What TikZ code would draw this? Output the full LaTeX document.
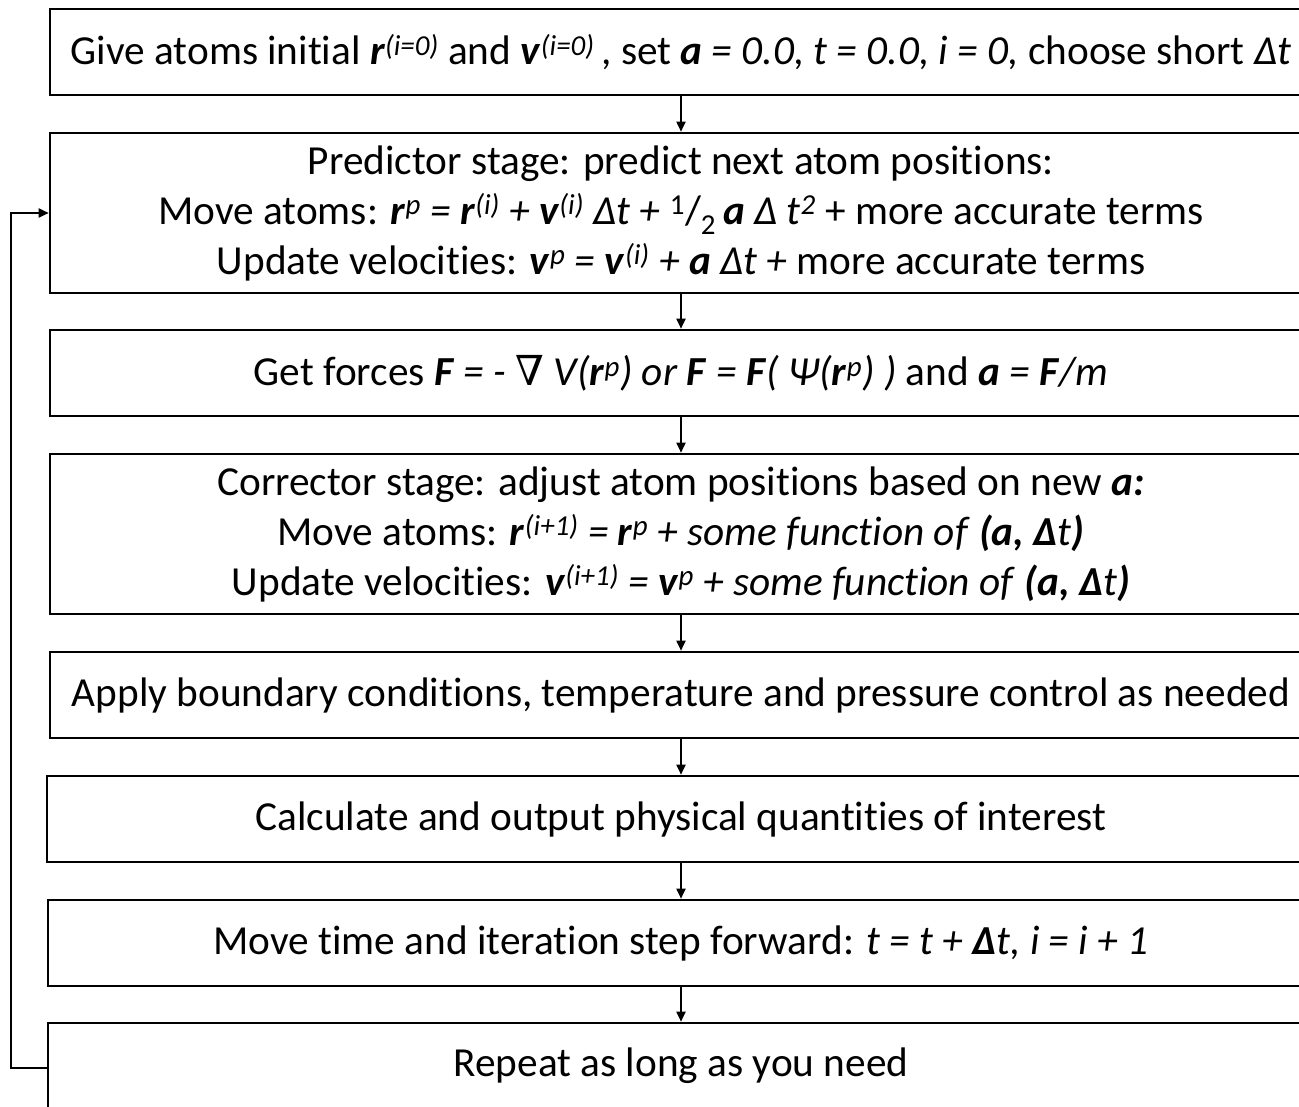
\documentclass[tikz,border=0pt]{standalone}
\usepackage{fontspec}
\setmainfont{Carlito}[Ligatures=NoCommon]
\newfontfamily\nablafont{DejaVu Serif}
\usetikzlibrary{arrows.meta}
\newcommand\bv[1]{\textbf{\textit{#1}}}
\newcommand\isup[1]{\textsuperscript{\textit{#1}}}
\begin{document}
\begin{tikzpicture}[x=1pt,y=-1pt,
  flowbox/.style={draw=black,line width=2.6pt,fill=white,align=center,inner sep=0pt,
    font=\fontsize{41.3}{50}\selectfont,minimum width=1262pt},
  shortbox/.style={flowbox,minimum height=86pt},
  tallbox/.style={flowbox,minimum height=160pt},
  flowarrow/.style={line width=1.8pt,-{Triangle[length=10pt,width=9pt]}}]
\useasboundingbox (0,0) rectangle (1299,1107);
\clip (0,0) rectangle (1299,1107);
\node[shortbox] (b1) at (681,52) {Give atoms initial \bv{r}\isup{(i=0)} and \bv{v}\isup{(i=0)}\,, set \bv{a} \textit{= 0.0, t = 0.0, i = 0,} choose short \textit{Δt}};
\node[tallbox] (b2) at (681,213) {Predictor stage: predict next atom positions:\\
Move atoms: \bv{r}\isup{p} \textit{=} \bv{r}\isup{(i)} \textit{+} \bv{v}\isup{(i)} \textit{Δt +} \textsuperscript{1}/\textsubscript{2}\,\bv{a} \textit{Δ t}\isup{2} + more accurate terms\\
Update velocities: \bv{v}\isup{p} \textit{=} \bv{v}\isup{(i)} \textit{+} \bv{a} \textit{Δt +} more accurate terms};
\node[shortbox] (b3) at (681,373) {Get forces \bv{F} \textit{= -} {\nablafont ∇} \textit{V(}\bv{r}\isup{p}\textit{) or} \bv{F} \textit{=} \bv{F}\textit{( Ψ(}\bv{r}\isup{p}\textit{) )} and \bv{a} \textit{=} \bv{F}\textit{/m}};
\node[tallbox] (b4) at (681,534) {Corrector stage: adjust atom positions based on new \bv{a:}\\
Move atoms: \bv{r}\isup{(i+1)} \textit{=} \bv{r}\isup{p} \textit{+ some function of} \bv{(a, Δ}\textit{t}\bv{)}\\
Update velocities: \bv{v}\isup{(i+1)} \textit{=} \bv{v}\isup{p} \textit{+ some function of} \bv{(a, Δ}\textit{t}\bv{)}};
\node[shortbox] (b5) at (681,695) {Apply boundary conditions, temperature and pressure control as needed};
\node[shortbox,minimum width=1268pt] (b6) at (681,819) {Calculate and output physical quantities of interest};
\node[shortbox,minimum width=1266pt] (b7) at (681,943) {Move time and iteration step forward: \textit{t = t +} \bv{Δ}\textit{t, i = i + 1}};
\node[shortbox,minimum width=1266pt] (b8) at (681,1066) {Repeat as long as you need};
\foreach \a/\b in {b1/b2,b2/b3,b3/b4,b4/b5,b5/b6,b6/b7,b7/b8}
  \draw[flowarrow] (\a.south) -- (\b.north);
\coordinate (lb) at (11,1068);
\coordinate (lt) at (11,213);
\draw[flowarrow,line cap=rect] (b8.west |- lb) -- (lb) -- (lt) -- (b2.west);
\end{tikzpicture}
\end{document}
